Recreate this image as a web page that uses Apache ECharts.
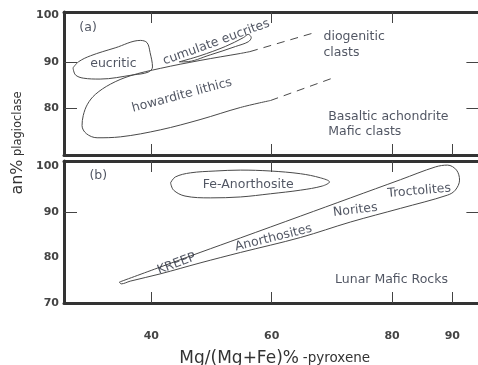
<!DOCTYPE html>
<html><head><meta charset="utf-8">
<script src="https://cdn.jsdelivr.net/npm/echarts@6/dist/echarts.min.js"></script>
<style>html,body{margin:0;padding:0;background:#fff}#c{width:478px;height:365px}</style>
</head><body><div id="c"></div>
<script>
// ---- tick values ----
const mgLabelTicks = [40, 60, 80, 90];
const mgTopTicks = [40, 60, 80];
const anLabelsA = [80, 90, 100];
const anTicksA = [80, 90];
const anLabelsB = [70, 80, 90, 100];
const anTicksB = [90];

// ---- panel (a) envelopes ----
const eucriticMg = [27.0, 27.9, 29.9, 34.0, 38.2, 39.3, 39.8, 40.2, 39.5, 37.0, 31.5, 28.7, 27.4, 27.0];
const eucriticAn = [88.7, 90.0, 91.3, 93.0, 94.6, 94.1, 92.0, 88.9, 87.8, 87.2, 86.3, 86.5, 87.2, 88.7];

const cumulateMg = [44.65, 48.1, 52.3, 55.3, 56.1, 56.6, 56.1, 54.0, 49.8, 45.6, 44.65];
const cumulateAn = [90.0, 91.3, 93.3, 95.2, 95.9, 95.2, 94.3, 93.3, 91.5, 90.0, 90.0];

const howarditeMg = [56.4, 54.8, 48.1, 41.5, 36.5, 33.2, 30.7, 29.4, 28.7, 28.5, 29.2, 31.0, 34.9, 41.5, 48.1, 54.8, 59.8];
const howarditeAn = [92.2, 91.8, 90.3, 88.6, 87.0, 85.2, 83.0, 80.9, 78.5, 76.3, 74.6, 73.7, 73.9, 75.4, 77.6, 80.2, 81.7];

const diogUpperMg = [56.4, 67.2];
const diogUpperAn = [92.2, 96.3];
const diogLowerMg = [59.8, 70.1];
const diogLowerAn = [81.7, 86.5];

// ---- panel (b) envelopes ----
const feAnoMg = [43.2, 44.0, 46.5, 50.6, 54.8, 59.8, 64.8, 68.1, 69.6, 68.4, 64.8, 59.8, 54.8, 49.8, 45.6, 43.7, 43.2];
const feAnoAn = [96.4, 97.7, 98.6, 99.0, 99.2, 99.0, 98.4, 97.5, 96.6, 95.7, 94.8, 94.0, 93.3, 93.1, 93.5, 94.8, 96.4];

const lunarMg = [34.7, 41.5, 48.1, 54.8, 64.8, 73.1, 81.4, 87.2, 89.2, 90.7, 91.2, 90.5, 89.2, 81.4, 73.1, 64.8, 54.8, 48.1, 41.5, 36.5, 35.0, 34.7];
const lunarAn = [74.6, 77.9, 81.1, 84.3, 89.1, 93.1, 97.1, 99.9, 100.3, 99.2, 97.0, 94.8, 93.7, 90.8, 87.8, 84.4, 81.1, 78.8, 76.4, 74.8, 74.2, 74.6];

// ---- annotations ----
const labelsA = ['(a)', 'eucritic', 'cumulate eucrites', 'howardite lithics', 'diogenitic\nclasts', 'Basaltic achondrite\nMafic clasts'];
const labelsAMg = [29.5, 33.7, 50.8, 45.1, 68.6, 69.4];
const labelsAAn = [97.4, 89.6, 94.2, 82.8, 93.7, 76.6];
const labelsB = ['(b)', 'Fe-Anorthosite', 'KREEP', 'Anorthosites', 'Norites', 'Troctolites', 'Lunar Mafic Rocks'];
const labelsBMg = [31.2, 56.1, 44.2, 60.3, 73.9, 84.5, 79.9];
const labelsBAn = [97.9, 95.9, 78.6, 84.3, 90.4, 94.6, 75.1];

// styles (not data)
const rotA = [0, 0, 20, 15, 0, 0];
const leftA = [false, false, false, false, true, true];
const rotB = [0, 0, 21, 14, 7, 5, 0];

const zip = (xs, ys) => xs.map((x, i) => [x, ys[i]]);
const FONT = 'DejaVu Sans';
const TXT = '#262c3c';
const AX = '#333333';

function lineSeries(xs, ys, g, dashed) {
  return {
    type: 'line', xAxisIndex: g * 2, yAxisIndex: g * 2,
    data: zip(xs, ys), symbol: 'none', smooth: dashed ? false : 0.35, silent: true,
    lineStyle: { color: '#4a4a4a', width: 1, type: dashed ? [8, 6] : 'solid' },
    z: 3
  };
}
function labelSeries(texts, xs, ys, rots, lefts, g) {
  return {
    type: 'scatter', xAxisIndex: g * 2, yAxisIndex: g * 2, symbolSize: 0, silent: true,
    data: texts.map((t, i) => ({
      name: t, value: [xs[i], ys[i]],
      label: {
        show: true, formatter: t, rotate: rots[i],
        position: (lefts && lefts[i]) ? 'right' : 'inside', distance: 0,
        align: (lefts && lefts[i]) ? 'left' : 'center',
        color: TXT, fontFamily: FONT, fontSize: 12.5, lineHeight: 15.5
      }
    })),
    z: 5
  };
}
function xAx(g, pos, ticks, labels) {
  return {
    type: 'value', gridIndex: g, position: pos, min: 25.5, max: 94.5,
    splitLine: { show: false },
    axisLine: { show: true, onZero: false, lineStyle: { color: AX, width: 3 } },
    axisTick: { show: true, inside: true, length: 11, customValues: ticks, lineStyle: { color: '#444', width: 1 } },
    axisLabel: labels ? { show: true, customValues: labels, margin: 28, color: '#444', fontFamily: FONT, fontWeight: 'bold', fontSize: 11 } : { show: false }
  };
}
function yAx(g, pos, max, ticks, labels) {
  return {
    type: 'value', gridIndex: g, position: pos, min: 70, max: max,
    splitLine: { show: false },
    axisLine: { show: true, onZero: false, lineStyle: { color: AX, width: 3 } },
    axisTick: { show: true, inside: true, length: 13, customValues: ticks, lineStyle: { color: '#444', width: 1 } },
    axisLabel: labels ? { show: true, customValues: labels, margin: 5, color: '#444', fontFamily: FONT, fontWeight: 'bold', fontSize: 11 } : { show: false }
  };
}

const chart = echarts.init(document.getElementById('c'), null, { renderer: 'canvas' });
chart.setOption({
  backgroundColor: '#fff',
  animation: false,
  textStyle: { fontFamily: FONT },
  grid: [
    { left: 64, top: 12, width: 415.4, height: 143, outerBoundsMode: 'none', containLabel: false },
    { left: 64, top: 161, width: 415.4, height: 142, outerBoundsMode: 'none', containLabel: false }
  ],
  xAxis: [
    xAx(0, 'bottom', mgLabelTicks, null),
    xAx(0, 'top', mgTopTicks, null),
    Object.assign(xAx(1, 'bottom', mgLabelTicks, mgLabelTicks), {
      name: '{a|Mg/(Mg+Fe)%} {b|-pyroxene}', nameLocation: 'middle', nameGap: 47,
      nameTextStyle: { padding: [0, 0, 0, 6], rich: {
        a: { fontFamily: FONT, fontSize: 17, color: '#333' },
        b: { fontFamily: FONT, fontSize: 13.5, color: '#333' }
      } }
    }),
    xAx(1, 'top', mgTopTicks, null)
  ],
  yAxis: [
    yAx(0, 'left', 100.7, anTicksA, anLabelsA),
    yAx(0, 'right', 100.7, anTicksA, null),
    yAx(1, 'left', 101.2, anTicksB, anLabelsB),
    yAx(1, 'right', 101.2, anTicksB, null)
  ],
  graphic: [{
    type: 'text', x: 18, y: 143, rotation: Math.PI / 2,
    style: {
      text: '{a|an%} {b|plagioclase}', align: 'center', verticalAlign: 'middle',
      rich: {
        a: { fontFamily: FONT, fontSize: 16, fill: '#333' },
        b: { fontFamily: FONT, fontSize: 11.5, fill: '#333' }
      }
    }
  }],
  series: [
    lineSeries(eucriticMg, eucriticAn, 0),
    lineSeries(cumulateMg, cumulateAn, 0),
    lineSeries(howarditeMg, howarditeAn, 0),
    lineSeries(diogUpperMg, diogUpperAn, 0, true),
    lineSeries(diogLowerMg, diogLowerAn, 0, true),
    labelSeries(labelsA, labelsAMg, labelsAAn, rotA, leftA, 0),
    lineSeries(feAnoMg, feAnoAn, 1),
    lineSeries(lunarMg, lunarAn, 1),
    labelSeries(labelsB, labelsBMg, labelsBAn, rotB, null, 1)
  ]
});
</script>
</body></html>
